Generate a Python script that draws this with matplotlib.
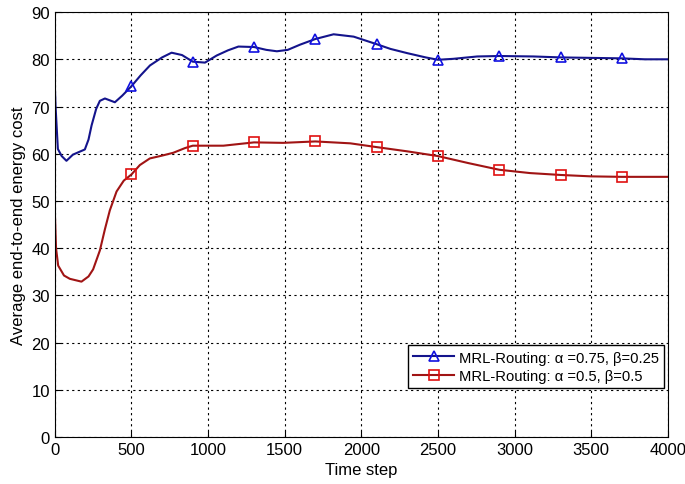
import matplotlib
matplotlib.use("Agg")
import matplotlib.pyplot as plt

plt.rcParams['font.family'] = ['Liberation Sans', 'DejaVu Sans']

# alpha=0.75, beta=0.25
blue_t = [0, 5, 20, 45, 76, 118, 196, 220, 240, 270, 294, 327, 392, 440, 500,
          560, 621, 700, 762, 830, 900, 980, 1056, 1130, 1198, 1300, 1380,
          1449, 1520, 1600, 1700, 1819, 1950, 2100, 2190, 2300, 2420, 2500,
          2600, 2756, 2900, 3124, 3300, 3500, 3700, 3850, 4000]
blue_v = [74.6, 70.0, 61.0, 59.5, 58.5, 59.8, 60.9, 63.0, 66.0, 69.5, 71.2,
          71.7, 70.9, 72.3, 74.3, 76.6, 78.7, 80.4, 81.4, 80.9, 79.5, 79.3,
          80.8, 81.9, 82.7, 82.6, 82.0, 81.7, 82.0, 83.1, 84.3, 85.3, 84.8,
          83.2, 82.2, 81.3, 80.4, 79.9, 80.1, 80.6, 80.7, 80.6, 80.4, 80.3,
          80.2, 80.0, 80.0]

# alpha=0.5, beta=0.5
red_t = [0, 8, 22, 60, 98, 174, 220, 250, 294, 327, 359, 403, 450, 500, 555,
         620, 700, 773, 850, 900, 1100, 1300, 1490, 1700, 1928, 2100, 2300,
         2500, 2700, 2900, 3100, 3300, 3500, 3700, 4000]
red_v = [47.9, 40.0, 36.3, 34.2, 33.5, 32.9, 34.0, 35.5, 39.5, 44.0, 48.0,
         52.0, 54.3, 55.6, 57.6, 59.0, 59.6, 60.2, 61.2, 61.7, 61.7, 62.4,
         62.3, 62.6, 62.2, 61.4, 60.5, 59.5, 58.0, 56.6, 55.9, 55.5, 55.2,
         55.1, 55.1]

marker_t = [500, 900, 1300, 1700, 2100, 2500, 2900, 3300, 3700]

fig = plt.figure(figsize=(6.85, 4.85), dpi=100)
ax = fig.add_axes([0.080, 0.097, 0.895, 0.876])

blue_marks = [i for i, t in enumerate(blue_t) if t in marker_t]
red_marks = [i for i, t in enumerate(red_t) if t in marker_t]

ax.plot(blue_t, blue_v, color='#14148c', lw=1.5, marker='^', markevery=blue_marks,
        markersize=7, markerfacecolor='none', markeredgecolor='#1010e0', markeredgewidth=1.2,
        label='MRL-Routing: α =0.75, β=0.25')
ax.plot(red_t, red_v, color='#a01414', lw=1.5, marker='s', markevery=red_marks,
        markersize=7, markerfacecolor='none', markeredgecolor='#e01010', markeredgewidth=1.2,
        label='MRL-Routing: α =0.5, β=0.5')

ax.set_xlim(0, 4000)
ax.set_ylim(0, 90)
ax.set_xticks(range(0, 4001, 500))
ax.set_yticks(range(0, 91, 10))
ax.grid(True, color='black', linestyle=(0, (2, 3)), linewidth=0.8)
ax.tick_params(labelsize=12, direction='in', length=4)
ax.set_xlabel('Time step', fontsize=12)
ax.set_ylabel('Average end-to-end energy cost', fontsize=12)

leg = ax.legend(loc='lower right', bbox_to_anchor=(0.998, 0.108), fontsize=10.6,
                fancybox=False, framealpha=1, edgecolor='black',
                borderpad=0.35, handlelength=2.8, labelspacing=0.3, handletextpad=0.3,
                borderaxespad=0.2)
leg.get_frame().set_linewidth(1.0)

fig.savefig('out.png', dpi=100)
